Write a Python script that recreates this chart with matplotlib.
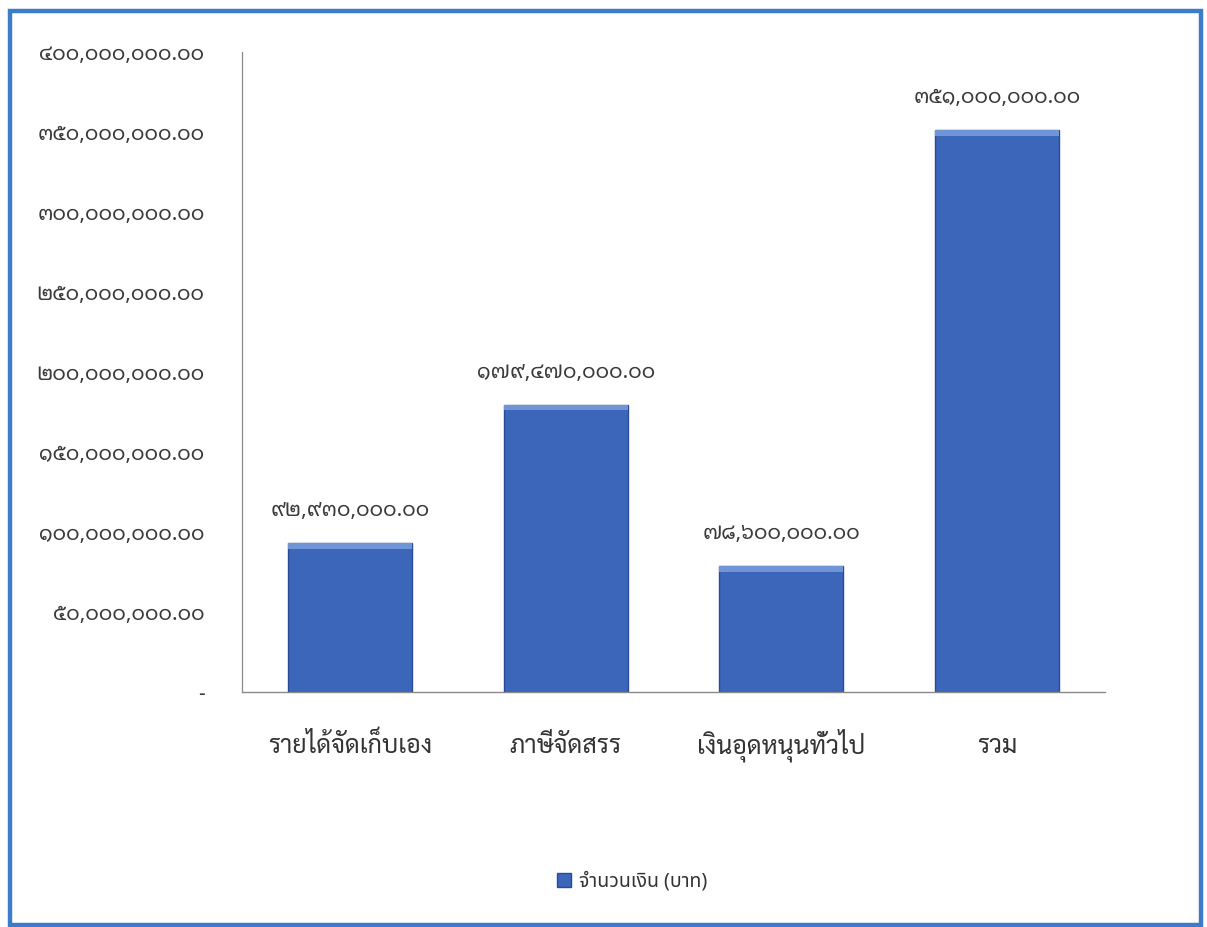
import matplotlib
matplotlib.use("Agg")
import matplotlib.pyplot as plt
from matplotlib.patches import Rectangle, Patch

# ข้อมูลจากแผนภูมิ
categories = ["รายได้จัดเก็บเอง", "ภาษีจัดสรร", "เงินอุดหนุนทั่วไป", "รวม"]
values = [92930000, 179470000, 78600000, 351000000]
yticks = [0, 50e6, 100e6, 150e6, 200e6, 250e6, 300e6, 350e6, 400e6]
legend_label = "จำนวนเงิน (บาท)"

THAI_DIGITS = str.maketrans("0123456789", "๐๑๒๓๔๕๖๗๘๙")


def thai_money(v):
    if v == 0:
        return "-"
    return f"{v:,.2f}".translate(THAI_DIGITS)


num_font = ["Noto Sans Thai Looped", "DejaVu Sans"]
cat_font = ["Sarabun", "DejaVu Sans"]
leg_font = ["Noto Sans Thai", "DejaVu Sans"]

bar_color = "#3b66b9"
edge_color = "#2a4c96"
top_color = "#6f95d6"

W, H = 1207, 927
fig = plt.figure(figsize=(W / 100, H / 100), dpi=100)
ax = fig.add_axes([242 / W, 1 - 692 / H, 863 / W, 640 / H])

x = list(range(len(categories)))
ax.bar(x, values, width=0.575, color=bar_color, edgecolor=edge_color, linewidth=1.0, zorder=2)
# ขอบบนแบบนูน
bevel = 3.5e6
ax.bar(x, [bevel] * len(values), bottom=[v - bevel for v in values], width=0.575,
       color=top_color, linewidth=0, zorder=3)

for xi, v in zip(x, values):
    ax.annotate(thai_money(v), (xi, v), xytext=(0, 16), textcoords="offset points",
                ha="center", va="bottom", fontsize=15, color="#3a3a3a",
                family=num_font)

ax.set_xlim(-0.5, 3.5)
ax.set_ylim(0, 400e6)
ax.set_yticks(yticks)
ax.set_yticklabels([thai_money(v) for v in yticks], family=num_font, fontsize=15,
                   color="#3a3a3a")
ax.set_xticks(x)
ax.set_xticklabels(categories, family=cat_font, fontsize=18, color="#333333", va="baseline")
ax.tick_params(axis="y", length=0, pad=27)
ax.tick_params(axis="x", length=0, pad=44)

for s in ["top", "right"]:
    ax.spines[s].set_visible(False)
ax.spines["left"].set_color("#8a8a8a")
ax.spines["left"].set_linestyle((0, (2, 1)))
ax.spines["left"].set_linewidth(0.9)
ax.spines["bottom"].set_color("#8a8a8a")
ax.spines["bottom"].set_linewidth(1.0)

handle = Patch(facecolor=bar_color, edgecolor=edge_color)
fig.legend(handles=[handle], labels=[legend_label], loc="center",
           bbox_to_anchor=(632 / W, 1 - 882 / H), frameon=False,
           prop={"family": leg_font, "size": 14}, handlelength=0.7, handleheight=0.7,
           handletextpad=0.4, labelcolor="#333333")

# กรอบสีน้ำเงิน
fig.patches.append(Rectangle((10 / W, 2 / H), 1191 / W, 914 / H, transform=fig.transFigure,
                             fill=False, edgecolor="#3d7cc9", linewidth=3.2))

fig.savefig("out.png", dpi=100)
